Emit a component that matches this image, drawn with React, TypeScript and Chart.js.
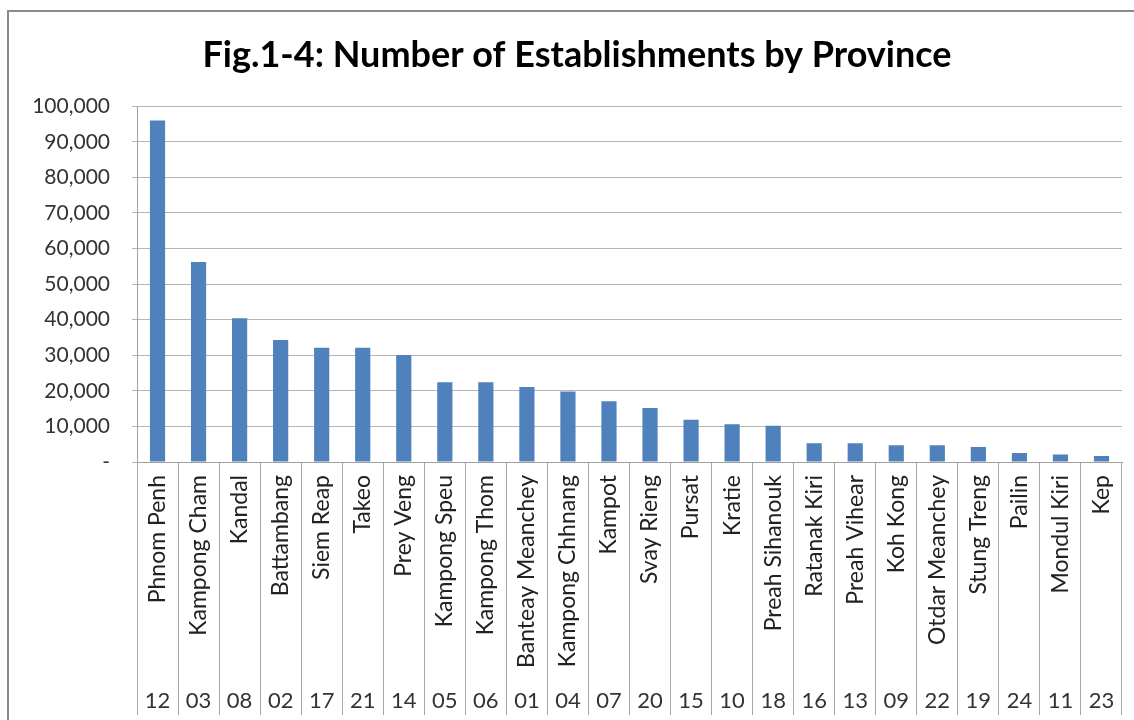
import React, { useEffect, useRef } from "react";
import { Chart, registerables } from "chart.js";

Chart.register(...registerables);

const provinces = [
  "Phnom Penh", "Kampong Cham", "Kandal", "Battambang", "Siem Reap", "Takeo",
  "Prey Veng", "Kampong Speu", "Kampong Thom", "Banteay Meanchey", "Kampong Chhnang",
  "Kampot", "Svay Rieng", "Pursat", "Kratie", "Preah Sihanouk", "Ratanak Kiri",
  "Preah Vihear", "Koh Kong", "Otdar Meanchey", "Stung Treng", "Pailin", "Mondul Kiri", "Kep",
];
const codes = [
  "12", "03", "08", "02", "17", "21", "14", "05", "06", "01", "04", "07",
  "20", "15", "10", "18", "16", "13", "09", "22", "19", "24", "11", "23",
];
const establishments = [
  96000, 56200, 40400, 34300, 32100, 32100, 30100, 22400, 22400, 21100, 19800, 17100,
  15200, 11900, 10600, 10200, 5300, 5300, 4700, 4700, 4200, 2500, 2100, 1700,
];
const yTicksMax = 100000;
const yTickStep = 10000;
const titleText = "Fig.1-4: Number of Establishments by Province";

export default function App() {
  const ref = useRef<HTMLCanvasElement>(null);
  useEffect(() => {
    if (!ref.current) return;
    const chart = new Chart(ref.current, {
      type: "bar",
      data: {
        labels: provinces,
        datasets: [
          {
            data: establishments,
            backgroundColor: "#4F81BD",
            barPercentage: 0.37,
            categoryPercentage: 1.0,
            xAxisID: "x",
            yAxisID: "y",
          },
        ],
      },
      options: {
        responsive: false,
        animation: false,
        layout: { padding: { left: 23, right: 12, top: 0, bottom: 5 } },
        plugins: {
          legend: { display: false },
          tooltip: { enabled: false },
          title: {
            display: true,
            text: titleText,
            color: "#000",
            font: { family: "Lato", size: 36, weight: "bold" },
            padding: { top: 22, bottom: 29 },
          },
        },
        scales: {
          y: {
            min: 0,
            max: yTicksMax,
            ticks: {
              stepSize: yTickStep,
              color: "#333",
              font: { family: "Lato", size: 21 },
              padding: 22,
              callback: (v: any) => (Number(v) === 0 ? "-" : Number(v).toLocaleString("en-US")),
            },
            grid: { color: "#b5b5b5", tickLength: 5, lineWidth: 1 },
            border: { color: "#a0a0a0" },
            afterFit: (s: any) => {
              s.width = 105;
            },
          },
          x: {
            type: "category",
            weight: 0,
            ticks: {
              autoSkip: false,
              minRotation: 90,
              maxRotation: 90,
              color: "#222",
              font: { family: "Lato", size: 23 },
              padding: 13 - 253,
            },
            grid: {
              offset: true,
              drawOnChartArea: false,
              drawTicks: true,
              tickLength: 253,
              color: "#a8a8a8",
            },
            border: { color: "#a0a0a0" },
            afterFit: (s: any) => {
              s.height = 220;
            },
          },
          codes: {
            type: "category",
            position: "bottom",
            weight: 1,
            labels: codes,
            offset: true,
            ticks: {
              autoSkip: false,
              maxRotation: 0,
              minRotation: 0,
              color: "#333",
              font: { family: "Lato", size: 22 },
              padding: 6,
            },
            grid: { display: false, drawTicks: false },
            border: { display: false },
            afterFit: (s: any) => {
              s.height = 33;
            },
          },
        },
      },
    });
    return () => chart.destroy();
  }, []);
  return (
    <div
      style={{
        position: "absolute",
        left: 7,
        top: 10,
        borderTop: "2px solid #8a8a8a",
        borderLeft: "2px solid #8a8a8a",
        width: 1125,
        height: 708,
        background: "#fff",
      }}
    >
      <canvas ref={ref} width={1125} height={708} style={{ display: "block" }} />
    </div>
  );
}
